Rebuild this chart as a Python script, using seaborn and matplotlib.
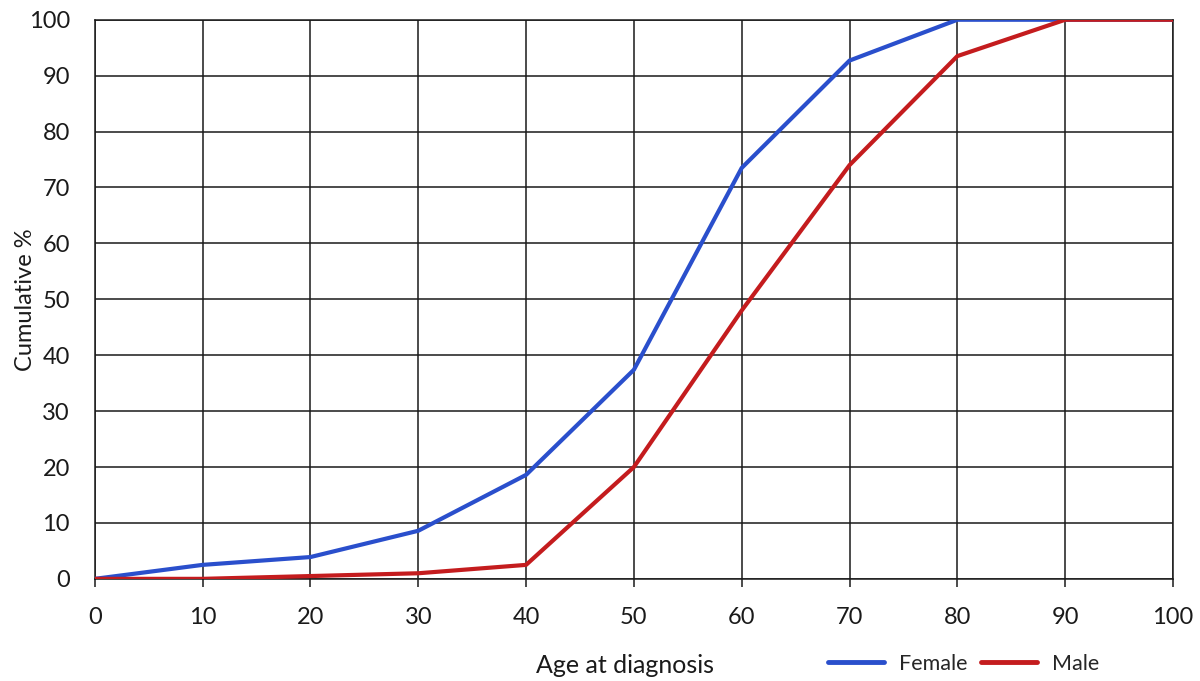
import numpy as np
import pandas as pd
import matplotlib
matplotlib.use("Agg")
import matplotlib.pyplot as plt
import seaborn as sns
from matplotlib.lines import Line2D

ages = [0, 10, 20, 30, 40, 50, 60, 70, 80, 90, 100]
female = [0, 2.5, 3.9, 8.6, 18.6, 37.4, 73.5, 92.7, 100, 100, 100]
male = [0, 0, 0.5, 1.0, 2.5, 20.0, 48.0, 74.0, 93.5, 100, 100]
series_names = ["Female", "Male"]
colors = ["#2a4fcc", "#c41c1e"]

df = pd.DataFrame({
    "age": ages * 2,
    "pct": female + male,
    "sex": [series_names[0]] * len(ages) + [series_names[1]] * len(ages),
})

sns.set_theme(style="white")
plt.rcParams["font.family"] = ["Lato", "DejaVu Sans"]

fig = plt.figure(figsize=(12, 6.81), dpi=100)
ax = fig.add_axes([0.079, 0.150, 0.8985, 0.821])

sns.lineplot(data=df, x="age", y="pct", hue="sex", palette=colors,
             linewidth=3.0, ax=ax, legend=False, zorder=3)

ax.set_xlim(0, 100)
ax.set_ylim(0, 100)
ax.set_xticks(range(0, 101, 10))
ax.set_yticks(range(0, 101, 10))
ax.grid(True, color="#1a1a1a", linewidth=1.1)
ax.set_axisbelow(True)
for s in ax.spines.values():
    s.set_color("#1a1a1a")
    s.set_linewidth(1.1)
ax.tick_params(axis="both", labelsize=17, colors="#1a1a1a")
ax.tick_params(axis="x", bottom=True, length=6, width=1.1, pad=14)
ax.tick_params(axis="y", left=False, pad=12)
ax.set_xlabel("")
ax.set_ylabel("")

fig.text(0.021, 0.56, "Cumulative %", fontsize=17, color="#1a1a1a",
         rotation=90, ha="center", va="center")
fig.text(0.521, 0.023, "Age at diagnosis", fontsize=18, color="#1a1a1a",
         ha="center", va="center")

handles = [Line2D([0], [0], color=c, lw=3.5) for c in colors]
fig.legend(handles, series_names, loc="center", bbox_to_anchor=(0.803, 0.025),
           ncol=2, frameon=False, fontsize=15.5, handlelength=2.6,
           columnspacing=0.6, handletextpad=0.7)

fig.savefig("out.png", dpi=100)
